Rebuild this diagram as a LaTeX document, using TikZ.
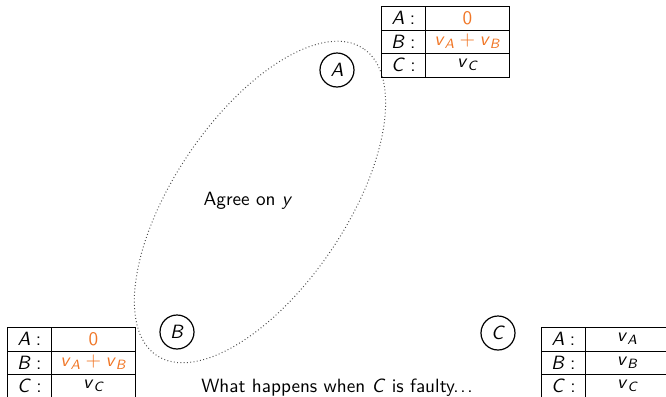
\documentclass[tikz,border=0pt]{standalone}
\usepackage{tikz}
\usetikzlibrary{matrix,positioning,calc}
\definecolor{narancs}{RGB}{240,118,38}
\newcommand{\vv}[1]{\textit{v}\textsubscript{\itshape #1}}
\newcommand{\fo}[1]{\textit{#1}\;:}
\tikzset{
  folyamat/.style={draw,circle,semithick,minimum size=17pt,inner sep=0pt},
  tabla/.style={matrix of nodes,inner sep=0pt,outer sep=0pt,anchor=north west,
                row sep=-\pgflinewidth,column sep=-\pgflinewidth,
                nodes={draw,inner sep=0pt,minimum height=11.75pt,anchor=center},
                column 1/.style={nodes={minimum width=22pt}},
                column 2/.style={nodes={minimum width=42pt}}},
  kiemel/.style={text=narancs},
  egyet/.style={draw=black!70,line width=0.5pt,dash pattern=on 0.45pt off 1.2pt},
}

\begin{document}
\begin{tikzpicture}[x=0.5pt,y=-0.5pt,font=\sffamily\fontsize{9.6}{11.5}\selectfont]
  \useasboundingbox (0,0) rectangle (666,397);
  \node[folyamat] (A) at (337,70) {\textit{A}};
  \node[folyamat] (B) at (177,332) {\textit{B}};
  \node[folyamat] (C) at (498,333) {\textit{C}};
  \coordinate (kozep) at ($(A)!0.5!(B)+(3,1)$);
  \draw[egyet,rotate around={56:(kozep)}] (kozep) ellipse[x radius=92.5pt,y radius=43pt];
  \node (megegyez) at (248,201) {Agree on \textit{y}};
  \matrix[tabla] (tA) at (381,6) {\fo{A} & |[kiemel]| 0 \\ \fo{B} & |[kiemel]| \vv{A}${}+{}$\vv{B} \\ \fo{C} & \vv{C} \\};
  \matrix[tabla] (tB) at (7,327) {\fo{A} & |[kiemel]| 0 \\ \fo{B} & |[kiemel]| \vv{A}${}+{}$\vv{B} \\ \fo{C} & \vv{C} \\};
  \matrix[tabla] (tC) at (541,327) {\fo{A} & \vv{A} \\ \fo{B} & \vv{B} \\ \fo{C} & \vv{C} \\};
  \node (kerdes) at (337,388) {What happens when \textit{C} is faulty.\kern0.8pt.\kern0.8pt.};
\end{tikzpicture}
\end{document}
